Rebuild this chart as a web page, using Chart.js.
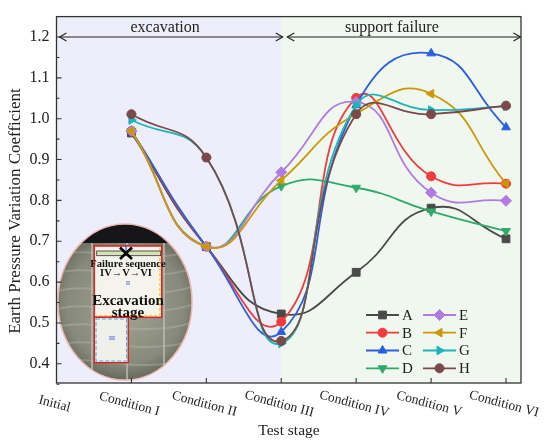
<!DOCTYPE html>
<html>
<head>
<meta charset="utf-8">
<script src="https://cdn.jsdelivr.net/npm/chart.js@4.4.1/dist/chart.umd.min.js"></script>
<style>
  html, body { margin: 0; padding: 0; background: #fff; }
  #wrap { width: 550px; height: 443px; }
</style>
</head>
<body>
<div id="wrap"><canvas id="chart" width="550" height="443"></canvas></div>
<script>
// x categories (index = position on the axis), values start at Condition I
const categories = ['Initial', 'Condition I', 'Condition II', 'Condition III', 'Condition IV', 'Condition V', 'Condition VI'];
const yTicks = [0.4, 0.5, 0.6, 0.7, 0.8, 0.9, 1.0, 1.1, 1.2];
const seriesNames = ['A', 'B', 'C', 'D', 'E', 'F', 'G', 'H'];

const valuesA = [0.965, 0.687, 0.522, 0.624, 0.781, 0.706];
const valuesB = [0.970, 0.687, 0.503, 1.051, 0.859, 0.841];
const valuesC = [0.970, 0.687, 0.478, 1.033, 1.160, 0.979];
const valuesD = [0.970, 0.687, 0.835, 0.831, 0.773, 0.725];
const valuesE = [0.970, 0.687, 0.869, 1.041, 0.819, 0.799];
const valuesF = [0.970, 0.687, 0.849, 1.012, 1.061, 0.841];
const valuesG = [0.997, 0.905, 0.450, 1.033, 1.021, 1.030];
const valuesH = [1.011, 0.905, 0.456, 1.011, 1.011, 1.032];

const stages = [
    {label: 'excavation', from: 0, to: 3},
    {label: 'support failure', from: 3, to: 6.2}
];

const seriesValues = [valuesA, valuesB, valuesC, valuesD, valuesE, valuesF, valuesG, valuesH];
const colors = ['#4a4a4a', '#f03c3c', '#2a5fe2', '#2eaa6a', '#b07ce2', '#cc9806', '#1ab6b8', '#7a4a4a'];
// [pointStyle, rotation, radius]
const markers = [
    ['rect', 0, 5.5], ['circle', 0, 4.5], ['triangle', 0, 5], ['triangle', 180, 5],
    ['rectRot', 0, 5.5], ['triangle', 270, 5], ['triangle', 90, 5], ['circle', 0, 4.5]
];

const serif = '"Liberation Serif", "DejaVu Serif", serif';
const textColor = '#222';

const datasets = seriesNames.map((name, i) => ({
    label: name,
    data: seriesValues[i].map((v, j) => ({x: j + 1, y: v})),
    borderColor: colors[i],
    backgroundColor: colors[i],
    pointBackgroundColor: colors[i],
    pointBorderColor: colors[i],
    pointStyle: markers[i][0],
    pointRotation: markers[i][1],
    pointRadius: markers[i][2],
    pointBorderWidth: 1,
    borderWidth: 1.8,
    tension: 0.5,
    order: seriesNames.length - i
}));

// two shaded stage backgrounds
const stageBackground = {
    id: 'stageBackground',
    beforeDatasetsDraw(chart) {
        const {ctx, chartArea: a, scales: {x}} = chart;
        const mid = x.getPixelForValue(stages[1].from);
        ctx.save();
        ctx.fillStyle = '#eeeefa';
        ctx.fillRect(a.left, a.top, mid - a.left, a.bottom - a.top);
        ctx.fillStyle = '#eff7ee';
        ctx.fillRect(mid, a.top, a.right - mid, a.bottom - a.top);
        ctx.restore();
        drawInset(ctx);
    }
};

// photo inset, drawn as simple shapes
function drawInset(ctx) {
    const cx = 125, cy = 302, rx = 67, ry = 78;
    ctx.save();
    ctx.beginPath();
    ctx.ellipse(cx, cy, rx, ry, 0, 0, Math.PI * 2);
    ctx.save();
    ctx.clip();
    const g = ctx.createRadialGradient(cx, cy + 10, 10, cx, cy, 80);
    g.addColorStop(0, '#9c9e8e');
    g.addColorStop(0.7, '#87897a');
    g.addColorStop(1, '#626457');
    ctx.fillStyle = g;
    ctx.fillRect(cx - rx, cy - ry, rx * 2, ry * 2);
    // rock streaks
    ctx.strokeStyle = 'rgba(200,202,190,0.3)';
    ctx.lineWidth = 2;
    for (let k = 0; k < 7; k++) {
        const yy = 255 + k * 18;
        ctx.beginPath();
        ctx.moveTo(cx - rx, yy);
        ctx.bezierCurveTo(cx - 30, yy - 10, cx + 10, yy + 12, cx + rx, yy - 4);
        ctx.stroke();
    }
    ctx.fillStyle = '#16161a';
    ctx.fillRect(cx - rx, cy - ry, rx * 2, 243 - (cy - ry));
    ctx.strokeStyle = '#bdbdb2';
    ctx.lineWidth = 1.5;
    [92, 127, 164].forEach(xx => {
        ctx.beginPath();
        ctx.moveTo(xx, 243);
        ctx.lineTo(xx, 382);
        ctx.stroke();
    });
    ctx.restore();
    ctx.beginPath();
    ctx.ellipse(cx, cy, rx, ry, 0, 0, Math.PI * 2);
    ctx.strokeStyle = '#eab8b0';
    ctx.lineWidth = 1.5;
    ctx.stroke();

    // upper panel
    ctx.fillStyle = '#f4f4ec';
    ctx.fillRect(94.3, 246, 67.4, 71.3);
    ctx.strokeStyle = '#e8d21e';
    ctx.setLineDash([3, 2]);
    ctx.lineWidth = 1.2;
    ctx.beginPath();
    ctx.moveTo(159.8, 248);
    ctx.lineTo(159.8, 315.5);
    ctx.lineTo(96, 315.5);
    ctx.stroke();
    ctx.setLineDash([]);
    ctx.strokeStyle = '#e02222';
    ctx.lineWidth = 1.5;
    ctx.strokeRect(94.3, 246, 67.4, 71.3);

    // lower panel
    ctx.fillStyle = '#f0f0ea';
    ctx.fillRect(94.3, 317.3, 34, 45.4);
    ctx.strokeStyle = '#e02222';
    ctx.strokeRect(94.3, 317.3, 34, 45.4);
    ctx.strokeStyle = '#36b2e6';
    ctx.setLineDash([4, 2]);
    ctx.lineWidth = 1.1;
    ctx.strokeRect(96, 319, 30.6, 42);
    ctx.setLineDash([]);

    // support bar and cross
    ctx.fillStyle = '#d6e2b6';
    ctx.fillRect(96.7, 251, 64, 4.7);
    ctx.strokeStyle = '#333';
    ctx.lineWidth = 0.8;
    ctx.strokeRect(96.7, 251, 64, 4.7);
    ctx.strokeStyle = '#2a44e0';
    ctx.lineWidth = 1.2;
    ctx.beginPath();
    ctx.moveTo(126, 245);
    ctx.lineTo(126, 250);
    ctx.stroke();
    ctx.strokeStyle = '#000';
    ctx.lineWidth = 2.6;
    ctx.beginPath();
    ctx.moveTo(120, 247.5);
    ctx.lineTo(132, 259);
    ctx.moveTo(132, 247.5);
    ctx.lineTo(120, 259);
    ctx.stroke();

    ctx.textAlign = 'center';
    ctx.textBaseline = 'middle';
    ctx.fillStyle = '#111';
    ctx.font = 'bold 10.5px ' + serif;
    ctx.fillText('Failure sequence', 128, 264);
    ctx.fillText('IV\u2192V\u2192VI', 126, 273);
    ctx.font = 'bold 15px ' + serif;
    ctx.fillText('Excavation', 128, 301);
    ctx.fillText('stage', 128, 313);
    ctx.fillStyle = '#2a36e0';
    ctx.font = '6px ' + serif;
    ctx.fillText('II', 128, 283);
    ctx.fillText('III', 112, 338);
    ctx.restore();
}

function drawArrowHead(ctx, x, y, dir) {
    ctx.beginPath();
    ctx.moveTo(x - dir * 7, y - 4);
    ctx.lineTo(x, y);
    ctx.lineTo(x - dir * 7, y + 4);
    ctx.stroke();
}

// stage arrows, in-plot legend
const overlays = {
    id: 'overlays',
    afterDatasetsDraw(chart) {
        const {ctx, scales: {x, y}} = chart;
        const yy = y.getPixelForValue(1.2);
        ctx.save();
        ctx.strokeStyle = '#222';
        ctx.lineWidth = 1.1;
        ctx.fillStyle = textColor;
        ctx.font = '16px ' + serif;
        ctx.textAlign = 'center';
        ctx.textBaseline = 'middle';
        stages.forEach((s, i) => {
            const x0 = x.getPixelForValue(s.from) + (i === 0 ? 3 : 6);
            const x1 = x.getPixelForValue(s.to) - (i === 0 ? -1.5 : 0.5);
            ctx.beginPath();
            ctx.moveTo(x0, yy);
            ctx.lineTo(x1, yy);
            ctx.stroke();
            drawArrowHead(ctx, x0, yy, -1);
            drawArrowHead(ctx, x1, yy, 1);
            ctx.fillText(s.label, (x0 + x1) / 2 - (i === 0 ? 6 : 12), yy - 9);
        });

        // legend: two columns of four
        const rows = [315, 332.7, 350.5, 368.3];
        const cols = [366, 423];
        ctx.font = '15px ' + serif;
        ctx.textAlign = 'left';
        seriesNames.forEach((name, i) => {
            const lx = cols[Math.floor(i / 4)];
            const ly = rows[i % 4];
            ctx.strokeStyle = colors[i];
            ctx.fillStyle = colors[i];
            ctx.lineWidth = 1.8;
            ctx.beginPath();
            ctx.moveTo(lx, ly);
            ctx.lineTo(lx + 33, ly);
            ctx.stroke();
            ctx.lineWidth = 1;
            Chart.helpers.drawPoint(ctx, {
                pointStyle: markers[i][0], rotation: markers[i][1], radius: markers[i][2], borderWidth: 1
            }, lx + 16.5, ly);
            ctx.fillStyle = textColor;
            ctx.fillText(name, lx + 36, ly + 1);
        });
        ctx.restore();
    },
    afterDraw(chart) {
        const {ctx, chartArea: a, scales: {x, y}} = chart;
        ctx.save();
        // frame
        ctx.strokeStyle = '#333';
        ctx.lineWidth = 1.3;
        ctx.strokeRect(a.left, a.top, a.right - a.left, a.bottom - a.top);
        // inward ticks
        ctx.lineWidth = 1.1;
        ctx.beginPath();
        yTicks.forEach(v => {
            const p = y.getPixelForValue(v);
            ctx.moveTo(a.left, p);
            ctx.lineTo(a.left + 5, p);
            const m = y.getPixelForValue(v - 0.05);
            ctx.moveTo(a.left, m);
            ctx.lineTo(a.left + 3, m);
        });
        categories.forEach((c, i) => {
            if (i === 0) return;
            const p = x.getPixelForValue(i);
            ctx.moveTo(p, a.bottom);
            ctx.lineTo(p, a.bottom - 5);
        });
        ctx.stroke();

        // slanted category labels
        ctx.fillStyle = textColor;
        ctx.font = '13.5px ' + serif;
        ctx.textAlign = 'center';
        ctx.textBaseline = 'middle';
        categories.forEach((c, i) => {
            const p = x.getPixelForValue(i);
            ctx.save();
            ctx.translate(p - 2, a.bottom + 21);
            ctx.rotate(15 * Math.PI / 180);
            ctx.fillText(c, 0, 0);
            ctx.restore();
        });

        // axis titles
        ctx.font = '15.5px ' + serif;
        ctx.fillText('Test stage', 289, 431);
        ctx.save();
        ctx.translate(16, 211);
        ctx.rotate(-Math.PI / 2);
        ctx.font = '17px ' + serif;
        ctx.fillText('Earth Pressure Variation Coefficient', 0, 0);
        ctx.restore();
        ctx.restore();
    }
};

new Chart(document.getElementById('chart'), {
    type: 'line',
    data: {datasets: datasets},
    options: {
        responsive: false,
        animation: false,
        layout: {padding: {left: 0, right: 29, top: 10, bottom: 0}},
        plugins: {
            legend: {display: false},
            tooltip: {enabled: false}
        },
        scales: {
            x: {
                type: 'linear',
                min: 0,
                max: 6.2,
                grid: {display: false, drawTicks: false},
                border: {display: false},
                ticks: {display: false},
                afterFit: (scale) => { scale.height = 60; }
            },
            y: {
                min: 0.353,
                max: 1.25,
                grid: {display: false, drawTicks: false},
                border: {display: false},
                afterBuildTicks: (scale) => { scale.ticks = yTicks.map(v => ({value: v})); },
                ticks: {
                    padding: 7,
                    color: textColor,
                    font: {family: serif, size: 16},
                    callback: (v) => Number(v).toFixed(1)
                },
                afterFit: (scale) => { scale.width = 56.5; }
            }
        }
    },
    plugins: [stageBackground, overlays]
});
</script>
</body>
</html>
